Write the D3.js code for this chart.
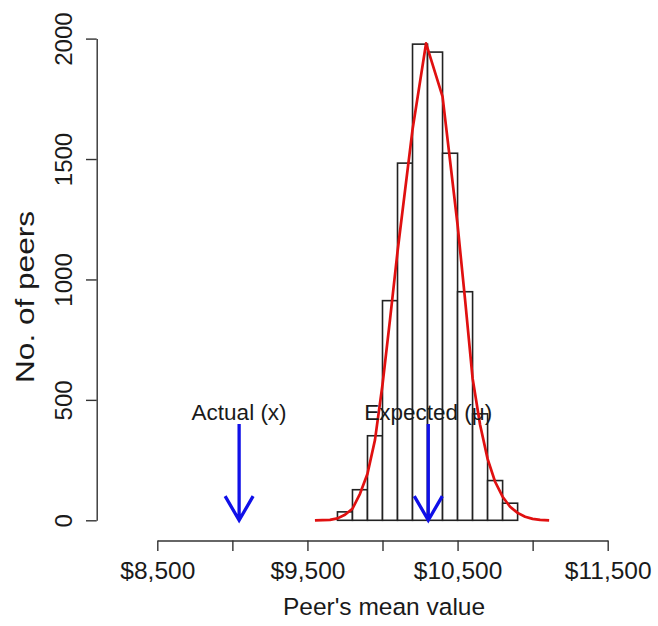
<!DOCTYPE html>
<html>
<head>
<meta charset="utf-8">
<script src="https://cdn.jsdelivr.net/npm/d3@7/dist/d3.min.js"></script>
<style>
  html, body { margin: 0; padding: 0; background: #fff; }
  svg { display: block; }
  text { font-family: "Liberation Sans", Arial, Helvetica, sans-serif; fill: #1a1a1a; }
</style>
</head>
<body>
<svg id="chart" width="658" height="626"></svg>
<script>
// Histogram of simulated peer means (bins of $100)
const binStarts = [9700, 9800, 9900, 10000, 10100, 10200, 10300, 10400, 10500, 10600, 10700, 10800];
const binWidth = 100;
const binCounts = [35, 127, 351, 912, 1483, 1977, 1944, 1524, 949, 442, 165, 71];

// Fitted density curve, scaled to counts
const curveX = [9550, 9600, 9650, 9700, 9750, 9800, 9850, 9900, 9950, 10000, 10050, 10100, 10200, 10290,
                10400, 10500, 10550, 10600, 10650, 10700, 10750, 10800, 10850, 10900, 10950, 11000, 11050, 11110];
const curveY = [0, 1, 2, 8, 23, 48, 110, 193, 334, 563, 833, 1115, 1622, 1980,
                1759, 1227, 916, 590, 397, 255, 160, 98, 56, 31, 15, 6, 2, 0];

// Reference markers
const markerNames = ["Actual (x)", "Expected (\u03bc)"];
const markerValues = [9045, 10305];
const markerTop = 400;
const markerLabelAt = 450;

// Axes
const xTicks = [8500, 9000, 9500, 10000, 10500, 11000, 11500];
const xTickLabels = ["$8,500", "", "$9,500", "", "$10,500", "", "$11,500"];
const yTicks = [0, 500, 1000, 1500, 2000];
const yTickLabels = ["0", "500", "1000", "1500", "2000"];
const xTitle = "Peer's mean value";
const yTitle = "No. of peers";

const svg = d3.select("#chart");

const x = d3.scaleLinear().domain([8500, 11500]).range([157.3, 607.7]);
const y = d3.scaleLinear().domain([0, 2000]).range([520.3, 38.6]);

// Bars
svg.append("g")
  .selectAll("rect")
  .data(binStarts.map((s, i) => ({ s, c: binCounts[i] })))
  .join("rect")
  .attr("x", d => x(d.s))
  .attr("width", d => x(d.s + binWidth) - x(d.s))
  .attr("y", d => y(d.c))
  .attr("height", d => y(0) - y(d.c))
  .attr("fill", "#fff")
  .attr("stroke", "#222")
  .attr("stroke-width", 1.6);

// Density curve
const line = d3.line().x(d => x(d[0])).y(d => y(d[1])).curve(d3.curveLinear);
svg.append("path")
  .datum(curveX.map((v, i) => [v, curveY[i]]))
  .attr("d", line)
  .attr("fill", "none")
  .attr("stroke", "#e01010")
  .attr("stroke-width", 2.7)
  .attr("stroke-linejoin", "round");

// Arrows with labels
const arrowLen = 28, arrowAng = Math.PI / 6;
const mk = svg.append("g");
markerValues.forEach((v, i) => {
  const px = x(v), top = y(markerTop), tip = y(0);
  const dx = arrowLen * Math.sin(arrowAng), dy = arrowLen * Math.cos(arrowAng);
  mk.append("path")
    .attr("d", `M${px},${top}L${px},${tip}M${px - dx},${tip - dy}L${px},${tip}L${px + dx},${tip - dy}`)
    .attr("fill", "none")
    .attr("stroke", "#1010e8")
    .attr("stroke-width", 3.3)
    .attr("stroke-linecap", "butt")
    .attr("stroke-linejoin", "miter");
  mk.append("text")
    .attr("x", px)
    .attr("y", y(markerLabelAt))
    .attr("dy", "0.36em")
    .attr("text-anchor", "middle")
    .attr("font-size", 22.5)
    .text(markerNames[i]);
});

// X axis
const xAxis = svg.append("g")
  .attr("transform", "translate(0,540.5)")
  .call(d3.axisBottom(x).tickValues(xTicks).tickSize(10.5).tickSizeOuter(0)
    .tickFormat((d, i) => xTickLabels[i]));
xAxis.select(".domain").attr("stroke", "#333").attr("stroke-width", 1.4);
xAxis.selectAll(".tick line").attr("stroke", "#333").attr("stroke-width", 1.4);
xAxis.selectAll(".tick text")
  .attr("y", 38).attr("dy", 0)
  .attr("font-size", 24.5).attr("fill", "#1a1a1a")
  .attr("font-family", "'Liberation Sans', Arial, sans-serif");

// Y axis
const yAxis = svg.append("g")
  .attr("transform", "translate(96.7,0)")
  .call(d3.axisLeft(y).tickValues(yTicks).tickSize(10.7).tickSizeOuter(0)
    .tickFormat((d, i) => yTickLabels[i]));
yAxis.select(".domain").attr("stroke", "#333").attr("stroke-width", 1.4);
yAxis.selectAll(".tick line").attr("stroke", "#333").attr("stroke-width", 1.4);
yAxis.selectAll(".tick text")
  .attr("transform", "rotate(-90)")
  .attr("x", 0).attr("y", -25).attr("dy", 0)
  .attr("text-anchor", "middle")
  .attr("font-size", 24).attr("fill", "#1a1a1a")
  .attr("font-family", "'Liberation Sans', Arial, sans-serif");

// Axis titles
svg.append("text")
  .attr("x", 384).attr("y", 615)
  .attr("text-anchor", "middle")
  .attr("font-size", 24.5)
  .text(xTitle);

svg.append("text")
  .attr("transform", "translate(34,297) rotate(-90)")
  .attr("text-anchor", "middle")
  .attr("font-size", 25)
  .attr("textLength", 172)
  .attr("lengthAdjust", "spacingAndGlyphs")
  .text(yTitle);
</script>
</body>
</html>
